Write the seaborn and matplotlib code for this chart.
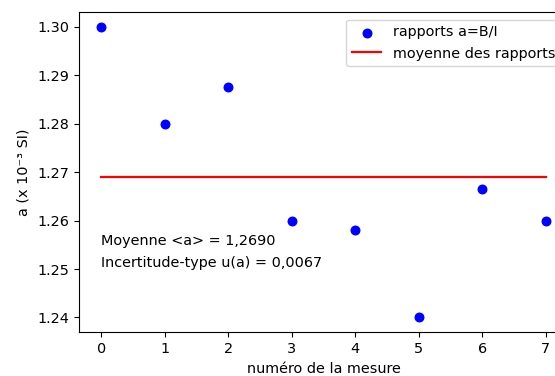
import matplotlib
matplotlib.use("Agg")
import matplotlib.pyplot as plt
import seaborn as sns
import pandas as pd

mesures = [0, 1, 2, 3, 4, 5, 6, 7]
rapports = [1.300, 1.280, 1.2876, 1.260, 1.2581, 1.240, 1.2666, 1.260]
moyenne = 1.2690
incertitude = 0.0067
xticks = [0, 1, 2, 3, 4, 5, 6, 7]
yticks = [1.24, 1.25, 1.26, 1.27, 1.28, 1.29, 1.30]

plt.rcParams["font.size"] = 10.4

df = pd.DataFrame({"n": mesures, "a": rapports})
df_moy = pd.DataFrame({"n": [mesures[0], mesures[-1]], "a": [moyenne, moyenne]})

fig = plt.figure(figsize=(5.55, 3.76), dpi=100)
ax = fig.add_axes([79/555, 1 - 332/376, (568 - 79)/555, (332 - 12.3)/376])

sns.scatterplot(data=df, x="n", y="a", ax=ax, color="blue", s=38,
                edgecolor="blue", linewidth=1, label="rapports a=B/I", zorder=3)
sns.lineplot(data=df_moy, x="n", y="a", ax=ax, color="red",
             linewidth=1.6, label="moyenne des rapports")

ax.set_xlim(-0.35, 7.35)
ax.set_ylim(1.237, 1.303)
ax.set_xticks(xticks)
ax.set_yticks(yticks)
ax.set_xlabel("numéro de la mesure", labelpad=4.5)
ax.set_ylabel("a (x 10⁻³ SI)", labelpad=5)

ax.text(0, 1.255, "Moyenne <a> = " + f"{moyenne:.4f}".replace(".", ","))
ax.text(0, 1.2505, "Incertitude-type u(a) = " + f"{incertitude:.4f}".replace(".", ","))

ax.legend(loc="upper right")

fig.savefig("out.png", dpi=100)
